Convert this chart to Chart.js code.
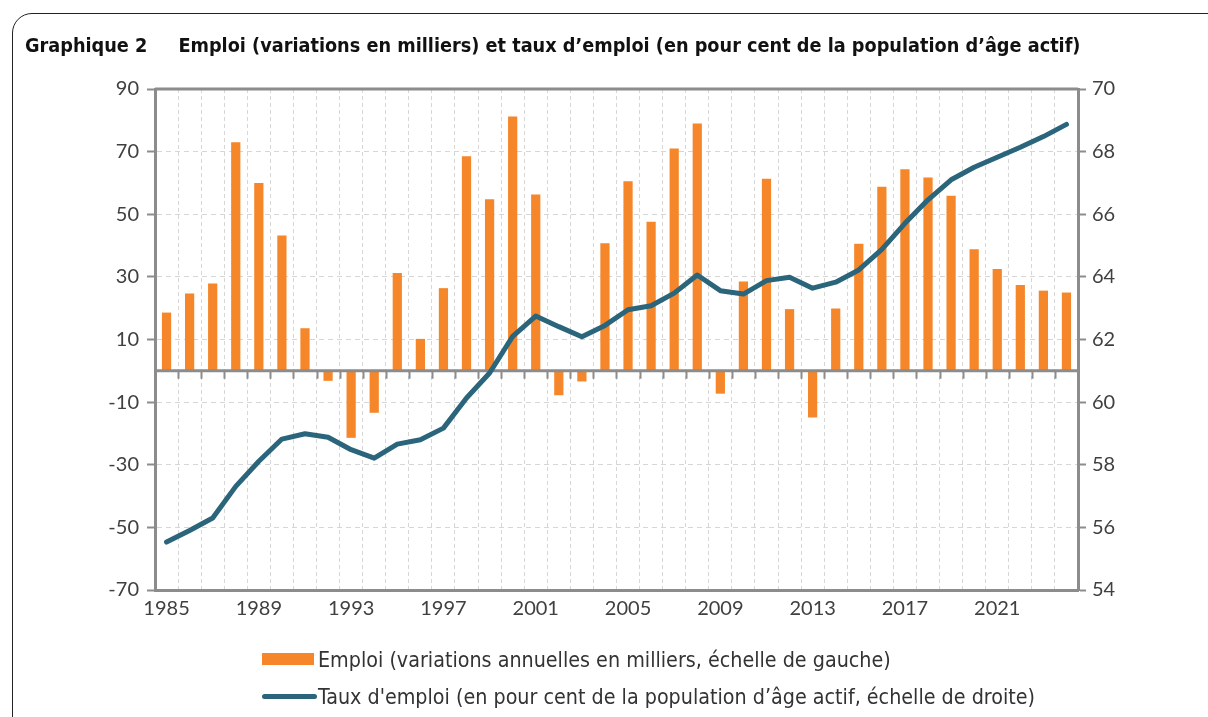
<!DOCTYPE html>
<html>
<head>
<meta charset="utf-8">
<script src="https://cdn.jsdelivr.net/npm/chart.js@4"></script>
<style>
  html, body { margin: 0; padding: 0; background: #fff; }
  body { width: 1208px; height: 717px; position: relative; overflow: hidden; }
  #frame {
    position: absolute; left: 12px; top: 13px; width: 1300px; height: 800px;
    border: 1.5px solid #222; border-top-left-radius: 20px;
  }
  #chart { position: absolute; left: 0; top: 0; }
  #title {
    position: absolute; left: 25px; top: 36px; white-space: nowrap; line-height: 1;
    font-family: "DejaVu Sans Condensed", "DejaVu Sans", sans-serif;
    font-weight: bold; font-size: 19.7px; color: #111;
  }
  #title .num { margin-right: 31px; }
  .legend-row {
    position: absolute; left: 262px; width: 900px; height: 24px; white-space: nowrap;
    font-family: "DejaVu Sans Condensed", "DejaVu Sans", sans-serif;
    font-size: 21.3px; line-height: 24px; color: #333;
  }
  .legend-row span { position: absolute; left: 56px; top: 0; }
  .swatch-bar { position: absolute; left: 0; width: 52px; height: 12px; background: #F5862A; }
  .swatch-line { position: absolute; left: 0; width: 55px; height: 5px; border-radius: 3px; background: #2A657B; }
</style>
</head>
<body>
<div id="frame"></div>
<canvas id="chart" width="1208" height="717"></canvas>
<div id="title"><span class="num">Graphique 2</span>Emploi (variations en milliers) et taux d’emploi (en pour cent de la population d’âge actif)</div>
<div class="legend-row" style="top:648px"><div class="swatch-bar" style="top:5px"></div><span>Emploi (variations annuelles en milliers, échelle de gauche)</span></div>
<div class="legend-row" style="top:685px"><div class="swatch-line" style="top:9px"></div><span>Taux d'emploi (en pour cent de la population d’âge actif, échelle de droite)</span></div>
<script>
const years = [];
for (let y = 1985; y <= 2024; y++) years.push(String(y));

// Emploi, variations annuelles en milliers (échelle de gauche)
const emploi = [
    18.6, 24.7, 27.9, 73.0, 60.0, 43.2, 13.6, -3.2, -21.4, -13.4,
    31.2, 10.2, 26.4, 68.5, 54.8, 81.2, 56.3, -7.8, -3.4, 40.7,
    60.5, 47.6, 71.0, 79.0, -7.3, 28.5, 61.3, 19.7, -14.9, 19.9,
    40.6, 58.8, 64.4, 61.7, 55.9, 38.8, 32.5, 27.4, 25.6, 25.0,
];

// Taux d'emploi, en pour cent (échelle de droite)
const tauxEmploi = [
    55.53, 55.90, 56.30, 57.31, 58.11, 58.82, 58.99, 58.88, 58.48, 58.21,
    58.66, 58.80, 59.17, 60.13, 60.93, 62.10, 62.75, 62.41, 62.09, 62.45,
    62.95, 63.08, 63.48, 64.06, 63.56, 63.45, 63.88, 63.99, 63.64, 63.83,
    64.22, 64.88, 65.71, 66.46, 67.10, 67.50, 67.82, 68.14, 68.48, 68.87,
];

const leftTicks = { min: -70, max: 90, step: 20 };
const rightTicks = { min: 54, max: 70, step: 2 };

const orange = '#F5862A';
const teal = '#2A657B';
const axisGrey = '#8C8C8C';
const gridGrey = '#D6D6D6';
const labelColour = '#404040';

// zero line with small ticks, plus the top border of the plot area
const zeroLine = {
    id: 'zeroLine',
    afterDatasetDraw(chart, args) {
        if (args.index !== 0) return;
        const { ctx, chartArea, scales: { x, y } } = chart;
        const y0 = y.getPixelForValue(0);
        ctx.save();
        ctx.strokeStyle = axisGrey;
        ctx.lineWidth = 3;
        ctx.beginPath();
        ctx.moveTo(chartArea.left, y0);
        ctx.lineTo(chartArea.right, y0);
        ctx.moveTo(chartArea.left, chartArea.top);
        ctx.lineTo(chartArea.right, chartArea.top);
        ctx.stroke();
        ctx.lineWidth = 2;
        ctx.beginPath();
        const half = (x.getPixelForValue(1) - x.getPixelForValue(0)) / 2;
        for (let i = 1; i < years.length; i++) {
            const px = Math.round(x.getPixelForValue(i) - half) + 0.5;
            ctx.moveTo(px, y0);
            ctx.lineTo(px, y0 + 8);
        }
        ctx.stroke();
        ctx.restore();
    },
};

const tickFont = { family: 'Lato', size: 20 };

new Chart(document.getElementById('chart'), {
    type: 'bar',
    data: {
        labels: years,
        datasets: [
            {
                label: 'Emploi (variations annuelles en milliers, échelle de gauche)',
                data: emploi,
                backgroundColor: orange,
                yAxisID: 'y',
                barPercentage: 0.4,
                categoryPercentage: 1,
                order: 2,
            },
            {
                type: 'line',
                label: "Taux d'emploi (en pour cent de la population d’âge actif, échelle de droite)",
                data: tauxEmploi,
                borderColor: teal,
                backgroundColor: teal,
                borderWidth: 5,
                pointRadius: 0,
                borderCapStyle: 'round',
                borderJoinStyle: 'round',
                yAxisID: 'y2',
                order: 1,
            },
        ],
    },
    options: {
        responsive: false,
        animation: false,
        devicePixelRatio: 1,
        layout: { padding: { top: 89, bottom: 97, left: 0, right: 0 } },
        plugins: {
            legend: { display: false },
            tooltip: { enabled: false },
        },
        scales: {
            x: {
                offset: true,
                grid: { color: gridGrey, drawTicks: false, offset: true },
                border: { display: true, color: axisGrey, width: 3, dash: [4, 3] },
                ticks: {
                    autoSkip: false,
                    maxRotation: 0,
                    padding: 7,
                    color: labelColour,
                    font: tickFont,
                    callback: (val, i) => (i % 4 === 0 ? years[i] : ''),
                },
                afterFit: (scale) => { scale.height = 30; },
            },
            y: {
                position: 'left',
                min: leftTicks.min,
                max: leftTicks.max,
                grid: {
                    color: gridGrey,
                    tickColor: axisGrey,
                    tickWidth: 2,
                    tickLength: 8,
                    tickBorderDash: [],
                },
                border: { display: true, color: axisGrey, width: 3, dash: [5, 4] },
                ticks: { stepSize: leftTicks.step, padding: 8, color: labelColour, font: tickFont },
                afterFit: (scale) => { scale.width = 155; },
            },
            y2: {
                position: 'right',
                min: rightTicks.min,
                max: rightTicks.max,
                grid: {
                    drawOnChartArea: false,
                    tickColor: axisGrey,
                    tickWidth: 2,
                    tickLength: 8,
                },
                border: { display: true, color: axisGrey, width: 3 },
                ticks: { stepSize: rightTicks.step, padding: 6, color: labelColour, font: tickFont },
                afterFit: (scale) => { scale.width = 130; },
            },
        },
    },
    plugins: [zeroLine],
});
</script>
</body>
</html>
